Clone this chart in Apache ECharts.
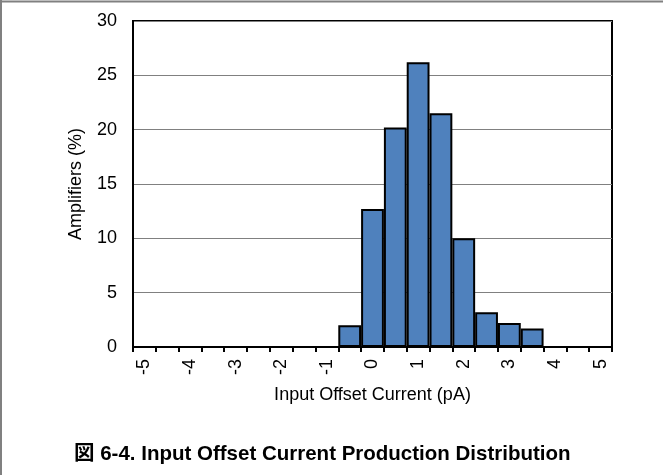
<!DOCTYPE html>
<html>
<head>
<meta charset="utf-8">
<script src="https://cdn.jsdelivr.net/npm/echarts@6/dist/echarts.min.js"></script>
<style>
html,body{margin:0;padding:0;background:#fff;}
#c{width:663px;height:475px;}
</style>
</head>
<body>
<div id="c"></div>
<script>
const categories = ["-5","-4.5","-4","-3.5","-3","-2.5","-2","-1.5","-1","-0.5","0","0.5","1","1.5","2","2.5","3","3.5","4","4.5","5"];
const amplifiersPct = [0,0,0,0,0,0,0,0,0,2.0,12.7,20.2,26.2,21.5,10.0,3.2,2.2,1.7,0,0,0];
const yTicks = [0,5,10,15,20,25,30];
const xTitle = "Input Offset Current (pA)";
const yTitle = "Amplifiers (%)";
const caption = "図 6-4. Input Offset Current Production Distribution";

const font = "'Liberation Sans', Arial, sans-serif";
const chart = echarts.init(document.getElementById('c'), null, {renderer:'canvas'});
chart.setOption({
  animation:false,
  backgroundColor:'#fff',
  title:{
    text: caption,
    left: 69, top: 439,
    textStyle:{fontFamily:"'Liberation Sans','Noto Sans CJK JP',sans-serif", fontWeight:'bold', fontSize:20.5, color:'#000'}
  },
  grid:{left:133, right:51, top:21, bottom:128, show:true, borderColor:'#000', borderWidth:2, backgroundColor:'transparent'},
  xAxis:{
    type:'category',
    data:categories,
    name:xTitle, nameLocation:'middle', nameGap:39,
    nameTextStyle:{fontFamily:font, fontSize:18, color:'#000'},
    axisLine:{show:true, lineStyle:{color:'#000', width:2}},
    axisTick:{show:true, interval:0, length:5, lineStyle:{color:'#000', width:2}},
    axisLabel:{interval:1, rotate:90, margin:12, fontFamily:font, fontSize:18, color:'#000'},
    splitLine:{show:false}
  },
  yAxis:{
    type:'value', min:yTicks[0], max:yTicks[yTicks.length-1], interval:5,
    name:yTitle, nameLocation:'middle', nameGap:48,
    nameTextStyle:{fontFamily:font, fontSize:18, color:'#000'},
    axisLine:{show:true, lineStyle:{color:'#000', width:2}},
    axisTick:{show:false},
    axisLabel:{margin:16, fontFamily:font, fontSize:18, color:'#000'},
    splitLine:{show:true, lineStyle:{color:'#808080', width:1}}
  },
  series:[{
    type:'bar',
    data:amplifiersPct,
    barCategoryGap:0,
    itemStyle:{color:'#4f81bd', borderColor:'#000', borderWidth:2}
  }],
  graphic:[
    {type:'line', shape:{x1:0,y1:1.5,x2:663,y2:1.5}, style:{stroke:'#808080', lineWidth:2}},
    {type:'line', shape:{x1:1,y1:0,x2:1,y2:475}, style:{stroke:'#808080', lineWidth:2}}
  ]
});
</script>
</body>
</html>
